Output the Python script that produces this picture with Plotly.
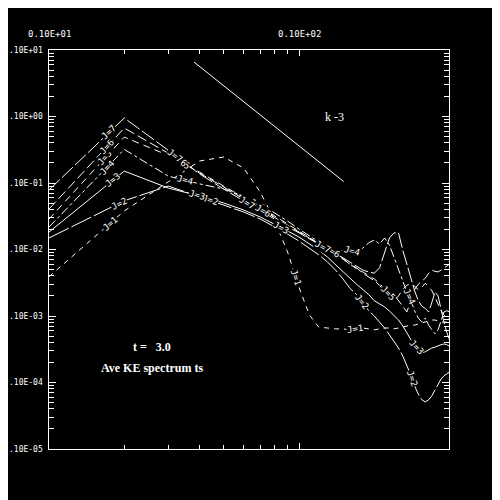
import numpy as np
import plotly.graph_objects as go

# ---------------- data ----------------
k = list(range(1, 41))

E_J1 = [0.0039, 0.038, 0.104, 0.214, 0.246, 0.168, 0.073, 0.0268, 0.0092, 0.0027,
        0.00104, 0.00068, 0.00066, 0.00064, 0.00064, 0.00062, 0.00064, 0.00066, 0.00064, 0.00062,
        0.00064, 0.00066, 0.00066, 0.00064, 0.00066, 0.00068, 0.00071, 0.00073, 0.00073, 0.00076,
        0.00078, 0.00081, 0.00084, 0.00087, 0.00087, 0.00084, 0.00081, 0.00081, 0.00081, 0.00078]
E_J2 = [0.0149, 0.054, 0.090, 0.0616, 0.0467, 0.0367, 0.0287, 0.022, 0.0171, 0.0134,
        0.0105, 0.0083, 0.0065, 0.0049, 0.0036, 0.0026, 0.0021, 0.0016, 0.0012, 0.0010,
        0.00081, 0.00066, 0.00052, 0.00041, 0.00033, 0.00025, 0.000183, 0.00013, 0.000089, 0.000067,
        0.000055, 0.000051, 0.000055, 0.000063, 0.000077, 0.000095, 0.000113, 0.000126, 0.000134, 0.000144]
E_J3 = [0.0183, 0.151, 0.084, 0.0638, 0.050, 0.0393, 0.0308, 0.0242, 0.019, 0.0154,
        0.0121, 0.0098, 0.0077, 0.0060, 0.0047, 0.0037, 0.0030, 0.0025, 0.0021, 0.0017,
        0.00151, 0.00137, 0.00119, 0.00103, 0.00087, 0.00071, 0.00055, 0.00044, 0.000355, 0.00031,
        0.00028, 0.00029, 0.00031, 0.00033, 0.00034, 0.00036, 0.00037, 0.00038, 0.00037, 0.00035]
E_J4 = [0.0218, 0.32, 0.127, 0.097, 0.081, 0.0638, 0.0483, 0.0355, 0.0268, 0.0203,
        0.0159, 0.013, 0.0109, 0.0098, 0.0095, 0.0098, 0.0092, 0.0105, 0.0126, 0.0139,
        0.0121, 0.0149, 0.0117, 0.0075, 0.0049, 0.0032, 0.0023, 0.0017, 0.0012, 0.00093,
        0.00081, 0.00093, 0.00073, 0.00062, 0.00054, 0.00062, 0.00087, 0.00115, 0.0012, 0.00115]
E_J5 = [0.0287, 0.49, 0.26, 0.146, 0.090, 0.0616, 0.0436, 0.0319, 0.0242, 0.019,
        0.0154, 0.0126, 0.0102, 0.0086, 0.0072, 0.0060, 0.0051, 0.0046, 0.0041, 0.0036,
        0.0031, 0.0025, 0.0021, 0.0017, 0.0020, 0.0025, 0.0029, 0.0031, 0.0028, 0.0025,
        0.0027, 0.0031, 0.0028, 0.0024, 0.0019, 0.00146, 0.0012, 0.00103, 0.00093, 0.00087]
E_J6 = [0.0406, 0.67, 0.28, 0.141, 0.087, 0.0575, 0.0406, 0.0298, 0.0226, 0.0183,
        0.0149, 0.0121, 0.0102, 0.0086, 0.0072, 0.0060, 0.0053, 0.0044, 0.0039, 0.0034,
        0.0029, 0.0023, 0.0019, 0.0021, 0.0017, 0.0014, 0.00115, 0.0017, 0.0025, 0.0030,
        0.0034, 0.0037, 0.0044, 0.0049, 0.0047, 0.0046, 0.0049, 0.0053, 0.0057, 0.0060]
E_J7 = [0.0785, 0.95, 0.31, 0.137, 0.081, 0.054, 0.038, 0.028, 0.022, 0.0178,
        0.0144, 0.0121, 0.0102, 0.0086, 0.0075, 0.0065, 0.0057, 0.0049, 0.0046, 0.0044,
        0.0053, 0.0092, 0.0149, 0.0178, 0.0178, 0.0098, 0.0059, 0.0036, 0.0024, 0.0017,
        0.0014, 0.0013, 0.00115, 0.0016, 0.0023, 0.0020, 0.0012, 0.00081, 0.00057, 0.00044]

series_names = ["J=1", "J=2", "J=3", "J=4", "J=5", "J=6", "J=7"]
series_values = [E_J1, E_J2, E_J3, E_J4, E_J5, E_J6, E_J7]

# k^-3 reference line
k_ref = [3.8, 15.1]
E_ref = [6.6, 0.105]

# where the in-line labels sit (k positions along each curve)
label_k = {
    "J=1": [1.75, 9.7, 16.7],
    "J=2": [1.9, 4.4, 17.9, 28.3],
    "J=3": [1.8, 3.9, 8.5, 29.4],
    "J=4": [1.7, 3.5, 16.3, 27.5],
    "J=5": [1.67, 3.4, 6.8, 22.7],
    "J=6": [1.7, 3.3, 7.2, 13.5],
    "J=7": [1.74, 3.2, 6.2, 12.5],
}

x_major = [1, 10]
x_major_text = ["0.10E+01", "0.10E+02"]
x_minor = [2, 3, 4, 5, 6, 7, 8, 9]
y_major = [10, 1, 0.1, 0.01, 0.001, 0.0001, 0.00001]
y_major_text = [".10E+01", ".10E+00", ".10E-01", ".10E-02", ".10E-03", ".10E-04", ".10E-05"]
y_minor = [m * 10.0 ** e for e in range(-5, 1) for m in range(2, 10)]

# ---------------- styling ----------------
dashes = {"J=1": "5px,5px", "J=2": "22px,3px", "J=3": "solid", "J=4": "9px,3px,3px,3px",
          "J=5": "7px,5px", "J=6": "10px,4px", "J=7": "15px,3px"}

# page body has an 8px margin, so the figure is drawn 8px smaller and shifted
W, H = 492, 492
ML, MR, MT, MB = 41, 51, 42, 51
XR = [0, 1.6]
YR = [-5, 1]
px_x = (W - ML - MR) / (XR[1] - XR[0])
px_y = (H - MT - MB) / (YR[1] - YR[0])

fig = go.Figure()
for name, vals in zip(series_names, series_values):
    fig.add_trace(go.Scatter(x=k, y=vals, mode="lines", name=name,
                             line=dict(color="white", width=1, dash=dashes[name])))
fig.add_trace(go.Scatter(x=k_ref, y=E_ref, mode="lines", name="k-3",
                         line=dict(color="white", width=1)))

annotations = []
lab_font = dict(family="DejaVu Sans Mono", size=9, color="white")
for name, vals in zip(series_names, series_values):
    lx = np.log10(k)
    ly = np.log10(vals)
    for kl in label_k[name]:
        xl = np.log10(kl)
        yl = float(np.interp(xl, lx, ly))
        i = int(np.clip(np.searchsorted(lx, xl) - 1, 0, len(lx) - 2))
        slope = (ly[i + 1] - ly[i]) / (lx[i + 1] - lx[i])
        ang = -np.degrees(np.arctan(slope * px_y / px_x))
        annotations.append(dict(x=xl, y=yl, xref="x", yref="y", text=name,
                                showarrow=False, font=lab_font, textangle=float(ang),
                                bgcolor="black", borderpad=0))

tick_font = dict(family="DejaVu Sans Mono", size=9, color="white")
ytick_font = dict(family="DejaVu Sans Mono", size=8, color="white")
for v, t in zip(x_major, x_major_text):
    annotations.append(dict(x=np.log10(v), y=1, xref="x", yref="paper", text=t,
                            showarrow=False, font=tick_font, yanchor="bottom",
                            xanchor="center", yshift=9))
for v, t in zip(y_major, y_major_text):
    annotations.append(dict(x=0, y=np.log10(v), xref="paper", yref="y", text=t,
                            showarrow=False, font=ytick_font, xanchor="right",
                            yanchor="middle", xshift=-5, borderpad=0))

serif = dict(family="Liberation Serif", size=12, color="white")
annotations.append(dict(x=0.7125, y=0.832, xref="paper", yref="paper", text="k -3",
                        showarrow=False, font=serif, xanchor="center", yanchor="middle"))
annotations.append(dict(x=0.2575, y=0.2556, xref="paper", yref="paper",
                        text="<b>t =\u00a0\u00a0 3.0</b>", showarrow=False, font=serif,
                        xanchor="center", yanchor="middle"))
annotations.append(dict(x=0.2575, y=0.203, xref="paper", yref="paper",
                        text="<b>Ave KE spectrum ts</b>", showarrow=False, font=serif,
                        xanchor="center", yanchor="middle"))

axis_common = dict(showline=True, linecolor="white", linewidth=1, mirror="ticks",
                   ticks="inside", tickcolor="white", tickwidth=1, showgrid=False,
                   zeroline=False, showticklabels=False)

fig.update_layout(
    width=W, height=H,
    margin=dict(l=ML, r=MR, t=MT, b=MB, pad=0),
    paper_bgcolor="black", plot_bgcolor="black",
    showlegend=False,
    xaxis=dict(type="log", range=XR, tickmode="array", tickvals=x_major, ticklen=6,
               minor=dict(tickmode="array", tickvals=x_minor, ticks="inside", ticklen=4,
                          tickcolor="white", showgrid=False),
               **axis_common),
    yaxis=dict(type="log", range=YR, tickmode="array", tickvals=y_major, ticklen=7,
               minor=dict(tickmode="array", tickvals=y_minor, ticks="inside", ticklen=5,
                          tickcolor="white", showgrid=False),
               **axis_common),
    annotations=annotations,
)

fig.write_html("out.html")
